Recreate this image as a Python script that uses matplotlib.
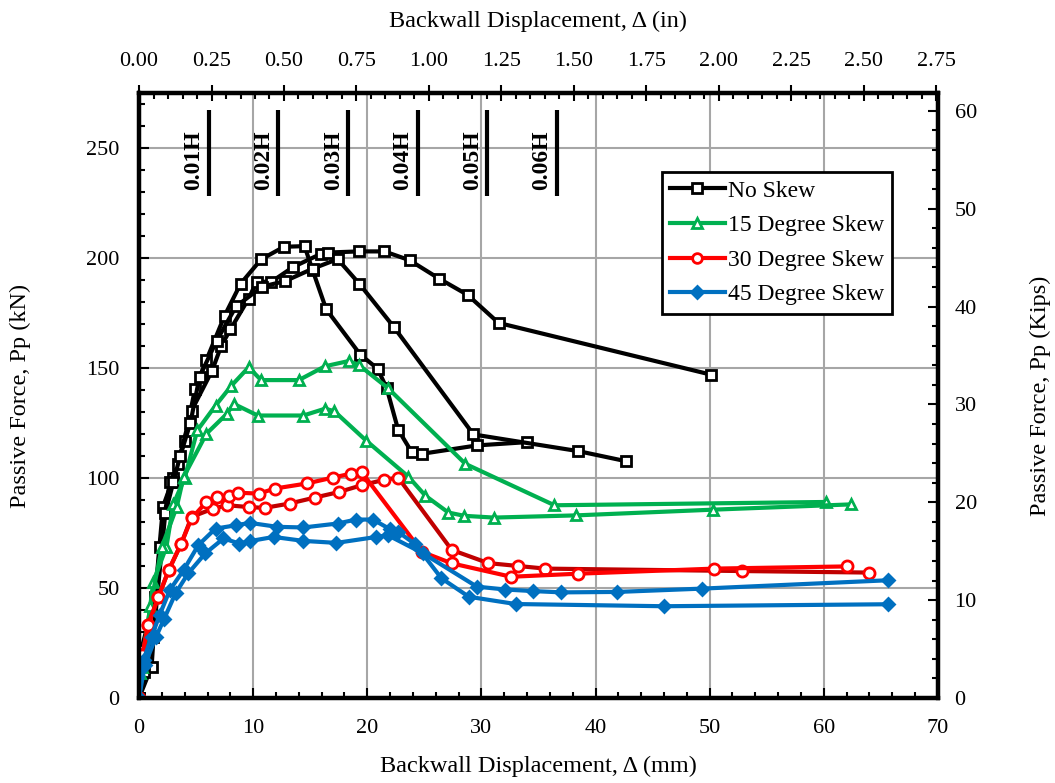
import numpy as np
import matplotlib
matplotlib.use("Agg")
import matplotlib.pyplot as plt
from matplotlib.ticker import MultipleLocator
from matplotlib.lines import Line2D

plt.rcParams['font.family'] = ['Liberation Serif', 'DejaVu Serif']

# ---------------- data (mm, kN) ----------------
ns1_x = [0, 0.2, 1.4, 2.1, 3.0, 4.0, 4.9, 5.9, 7.5, 8.9, 10.7, 12.7, 14.5, 15.2, 16.4, 19.4, 20.9, 21.7, 22.7, 23.9, 24.8, 29.6, 34.0]
ns1_y = [0, 22, 46, 87, 100, 117, 140.5, 153.6, 173.8, 188.3, 199.4, 205.1, 205.4, 194.6, 176.7, 156, 149.7, 140.8, 122, 111.7, 111, 114.8, 116.3]

ns2_x = [0, 1.1, 1.8, 2.7, 3.4, 4.6, 6.4, 7.2, 8.0, 9.6, 10.3, 11.6, 13.5, 15.9, 16.6, 19.3, 21.5, 23.7, 26.3, 28.8, 31.5, 50.1]
ns2_y = [0, 14.3, 68.7, 98.2, 106.5, 130.6, 148.8, 160, 167.5, 181.5, 189.2, 189.2, 195.9, 201.8, 202.5, 203, 203, 199, 190.6, 183.2, 170.5, 147]

ns3_x = [0, 0.4, 1.25, 2.3, 3.0, 3.6, 4.5, 5.3, 6.8, 8.5, 10.8, 12.8, 15.2, 17.4, 19.3, 22.3, 29.3, 38.5, 42.7]
ns3_y = [0, 12, 27.9, 84, 98, 110, 125, 146, 162.4, 178, 187, 189.5, 195.1, 199.5, 188.3, 168.8, 119.8, 112.2, 107.6]

s15a_x = [0, 0.3, 1.25, 2.4, 3.0, 4.0, 5.1, 6.7, 8.1, 9.6, 10.7, 14.0, 16.3, 18.4, 19.3, 21.8, 28.6, 36.4, 60.2]
s15a_y = [0, 14, 52.8, 68.7, 88, 100, 121.6, 132.9, 142, 150.3, 144.5, 144.5, 150.8, 153.2, 151.2, 140.9, 106.4, 87.6, 89.1]

s15b_x = [0, 0.1, 1.0, 2.0, 3.3, 3.9, 5.9, 7.7, 8.3, 10.4, 14.4, 16.3, 17.1, 19.9, 23.6, 25.1, 27.1, 28.5, 31.1, 38.3, 50.3, 62.4]
s15b_y = [0, 11.3, 42, 68.7, 86.8, 100.4, 120.1, 129.2, 133.7, 128.4, 128.4, 131.5, 130.4, 117, 100.6, 91.9, 84.3, 82.8, 82, 83, 85.6, 88]

s30a_x = [0, 0.3, 0.8, 1.7, 2.6, 3.7, 4.6, 5.9, 6.8, 7.9, 8.7, 10.5, 11.9, 14.7, 17.0, 18.6, 19.5, 24.8, 27.4, 32.6, 38.5, 50.4, 62.0]
s30a_y = [0, 19.6, 33.2, 46, 58.1, 70.2, 81.6, 89.1, 91.4, 91.7, 93.3, 92.9, 95.2, 97.5, 100.2, 102, 102.7, 66.4, 61.2, 55.1, 56.5, 58.8, 59.8]

s30b_x = [0, 0.3, 0.8, 1.7, 2.6, 3.7, 4.6, 6.5, 7.7, 9.6, 11.0, 13.2, 15.4, 17.5, 19.5, 21.5, 22.7, 27.4, 30.6, 33.2, 35.6, 52.8, 64.0]
s30b_y = [0, 19.6, 33.2, 46, 58.1, 70.2, 82.3, 86.1, 87.6, 86.8, 86.4, 88.4, 91.1, 93.6, 96.7, 99.2, 100.2, 67.3, 61.3, 60, 58.8, 57.7, 57.0]

s45a_x = [0, 0.4, 1.1, 1.8, 2.7, 3.9, 5.2, 6.7, 8.5, 9.7, 12.1, 14.4, 17.4, 19.0, 20.5, 22.0, 22.7, 24.2, 26.5, 28.9, 33.0, 46.0, 65.6]
s45a_y = [0, 17.4, 27.9, 37.7, 49.1, 58.1, 69.5, 77, 78.5, 79.6, 77.8, 77.5, 79.3, 81.1, 81.1, 76.7, 75.5, 69.9, 54.4, 46, 42.7, 41.7, 42.6]

s45b_x = [0, 0.5, 1.5, 2.2, 3.2, 4.3, 5.8, 7.4, 8.8, 9.7, 11.8, 14.4, 17.3, 20.8, 21.8, 24.9, 29.6, 32.1, 34.5, 37.0, 41.9, 49.3, 65.6]
s45b_y = [0, 15, 27.9, 36, 47.6, 56.6, 65.7, 72.5, 70.2, 71.3, 73.2, 71.4, 70.5, 73.2, 74, 65.7, 50.6, 49.3, 48.6, 48, 48.2, 49.7, 53.5]

legend_labels = ["No Skew", "15 Degree Skew", "30 Degree Skew", "45 Degree Skew"]
drift_ratios = [0.01, 0.02, 0.03, 0.04, 0.05, 0.06]
drift_labels = ["0.01H", "0.02H", "0.03H", "0.04H", "0.05H", "0.06H"]
wall_height_mm = 610
top_ticks_in = [0.00, 0.25, 0.50, 0.75, 1.00, 1.25, 1.50, 1.75, 2.00, 2.25, 2.50, 2.75]
right_ticks_kips = [0, 10, 20, 30, 40, 50, 60]
KN_PER_KIP = 4.44822
MM_PER_IN = 25.4

# ---------------- figure ----------------
fig = plt.figure(figsize=(10.55, 7.83), dpi=100)
ax = fig.add_axes([0.1318, 0.1086, 0.7572, 0.7726])
ax.set_xlim(0, 70)
ax.set_ylim(0, 275)
ax.xaxis.set_major_locator(MultipleLocator(10))
ax.xaxis.set_minor_locator(MultipleLocator(2))
ax.yaxis.set_major_locator(MultipleLocator(50))
ax.yaxis.set_minor_locator(MultipleLocator(10))
ax.grid(which='major', color='#a6a6a6', lw=1.5, zorder=0)
ax.set_axisbelow(True)

BLACK = '#000000'
GREEN = '#00B050'
RED = '#FF0000'
DRED = '#C00000'
BLUE = '#0070C0'

styles = [
    (ns1_x, ns1_y, BLACK, 's', 'white', BLACK, 7),
    (ns2_x, ns2_y, BLACK, 's', 'white', BLACK, 7),
    (ns3_x, ns3_y, BLACK, 's', 'white', BLACK, 7),
    (s15a_x, s15a_y, GREEN, '^', 'white', GREEN, 7.5),
    (s15b_x, s15b_y, GREEN, '^', 'white', GREEN, 7.5),
    (s30b_x, s30b_y, DRED, 'o', 'white', RED, 8),
    (s30a_x, s30a_y, RED, 'o', 'white', RED, 8),
    (s45a_x, s45a_y, BLUE, 'D', BLUE, BLUE, 6),
    (s45b_x, s45b_y, BLUE, 'D', BLUE, BLUE, 6),
]
for x, y, lc, mk, mfc, mec, ms in styles:
    ax.plot(x, y, color=lc, lw=3, marker=mk, mfc=mfc, mec=mec, ms=ms, mew=2, zorder=3)

# drift markers
bar_bottom, bar_top, label_y = 228, 267.4, 244.5
for r, lbl in zip(drift_ratios, drift_labels):
    xp = r * wall_height_mm
    ax.plot([xp, xp], [bar_bottom, bar_top], color='k', lw=3, solid_capstyle='butt', zorder=4)
    ax.annotate(lbl, xy=(xp, label_y), xytext=(-3, 0), textcoords='offset points',
                rotation=90, ha='right', va='center', fontsize=17, fontweight='bold', zorder=4)

# legend
handles = [
    Line2D([], [], color=BLACK, lw=3, marker='s', mfc='white', mec=BLACK, ms=7, mew=2),
    Line2D([], [], color=GREEN, lw=3, marker='^', mfc='white', mec=GREEN, ms=7.5, mew=2),
    Line2D([], [], color=RED, lw=3, marker='o', mfc='white', mec=RED, ms=7, mew=2),
    Line2D([], [], color=BLUE, lw=3, marker='D', mfc=BLUE, mec=BLUE, ms=6, mew=2),
]
leg = ax.legend(handles, legend_labels, loc='upper left', bbox_to_anchor=(0.6546, 0.8695),
                fontsize=17, frameon=True, fancybox=False, edgecolor='black', framealpha=1,
                handlelength=2.3, handletextpad=0.15, labelspacing=0.55, borderpad=0.35,
                borderaxespad=0)
leg.get_frame().set_linewidth(2)
leg.set_zorder(6)

ax.set_xlabel('Backwall Displacement, Δ (mm)', fontsize=17.5, labelpad=13)
ax.set_ylabel('Passive Force, Pp (kN)', fontsize=17.5, labelpad=40)

for s in ax.spines.values():
    s.set_linewidth(3)
ax.tick_params(which='both', direction='in', width=1.5, labelsize=16,
               top=False, right=False)
ax.tick_params(which='major', length=7)
ax.tick_params(which='minor', length=4)
ax.tick_params(axis='x', pad=15)
ax.tick_params(axis='y', pad=14)

# top axis (in)
axt = ax.twiny()
axt.set_xlim(0, 70 / MM_PER_IN)
axt.set_xticks(top_ticks_in)
axt.set_xticklabels([f"{t:.2f}" for t in top_ticks_in])
axt.xaxis.set_minor_locator(MultipleLocator(0.05))
axt.tick_params(which='major', direction='inout', length=12, width=1.5, labelsize=16, pad=10)
axt.tick_params(which='minor', direction='in', length=4, width=1.5)
axt.set_xlabel('Backwall Displacement, Δ (in)', fontsize=17.5, labelpad=18)

# right axis (kips)
axr = ax.twinx()
axr.set_ylim(0, 275 / KN_PER_KIP)
axr.set_yticks(right_ticks_kips)
axr.yaxis.set_minor_locator(MultipleLocator(2))
axr.tick_params(which='major', direction='in', length=7, width=1.5, labelsize=16, pad=12)
axr.tick_params(which='minor', direction='in', length=4, width=1.5)
axr.set_ylabel('Passive Force, Pp (Kips)', fontsize=17.5, labelpad=38, rotation=90)
for a in (axt, axr):
    for s in a.spines.values():
        s.set_linewidth(3)

fig.savefig('out.png', dpi=100)
